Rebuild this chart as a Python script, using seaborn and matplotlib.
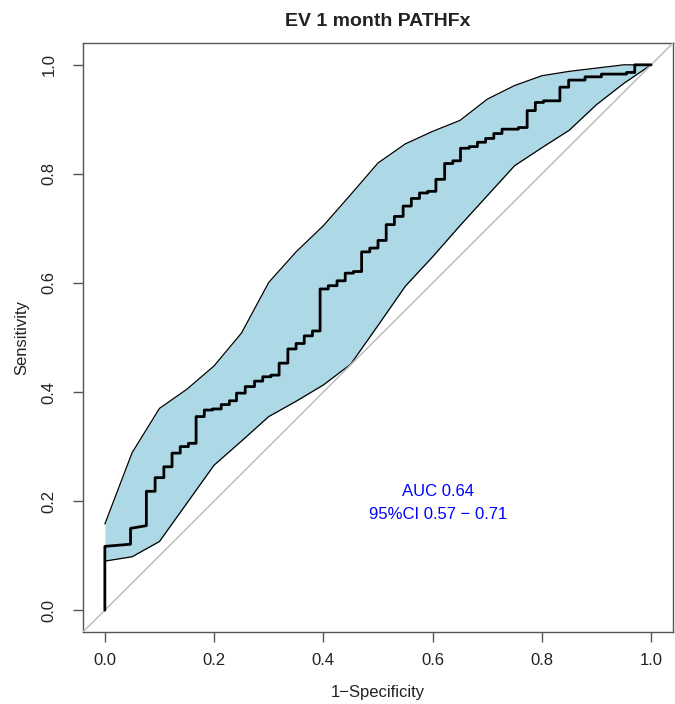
import numpy as np
import pandas as pd
import matplotlib
matplotlib.use("Agg")
import matplotlib.pyplot as plt
import seaborn as sns

# ROC curve vertices (1-specificity, sensitivity)
roc_fpr = [0, 0, 0.047, 0.047, 0.076, 0.076, 0.092, 0.092, 0.108, 0.108, 0.123, 0.123,
           0.138, 0.138, 0.153, 0.153, 0.167, 0.167, 0.182, 0.182, 0.197, 0.197, 0.213, 0.213,
           0.228, 0.228, 0.241, 0.241, 0.257, 0.257, 0.274, 0.274, 0.289, 0.289, 0.304, 0.304,
           0.319, 0.319, 0.335, 0.335, 0.350, 0.350, 0.365, 0.365, 0.380, 0.380, 0.394, 0.394,
           0.409, 0.409, 0.425, 0.425, 0.440, 0.440, 0.455, 0.455, 0.470, 0.470, 0.485, 0.485,
           0.500, 0.500, 0.515, 0.515, 0.530, 0.530, 0.546, 0.546, 0.561, 0.561, 0.576, 0.576,
           0.591, 0.591, 0.606, 0.606, 0.622, 0.622, 0.637, 0.637, 0.651, 0.651, 0.667, 0.667,
           0.682, 0.682, 0.697, 0.697, 0.712, 0.712, 0.727, 0.727, 0.757, 0.757, 0.773, 0.773,
           0.788, 0.788, 0.803, 0.803, 0.833, 0.833, 0.849, 0.849, 0.879, 0.879, 0.909, 0.909,
           0.955, 0.955, 0.970, 0.970, 1.0]
roc_tpr = [0, 0.117, 0.121, 0.150, 0.155, 0.218, 0.218, 0.243, 0.243, 0.263, 0.263, 0.288,
           0.288, 0.300, 0.300, 0.306, 0.306, 0.355, 0.355, 0.367, 0.367, 0.369, 0.369, 0.377,
           0.377, 0.384, 0.384, 0.398, 0.398, 0.410, 0.410, 0.420, 0.420, 0.428, 0.428, 0.431,
           0.431, 0.453, 0.453, 0.479, 0.479, 0.489, 0.489, 0.503, 0.503, 0.512, 0.512, 0.589,
           0.589, 0.595, 0.595, 0.604, 0.604, 0.618, 0.618, 0.621, 0.621, 0.657, 0.657, 0.664,
           0.664, 0.678, 0.678, 0.707, 0.707, 0.722, 0.722, 0.741, 0.741, 0.755, 0.755, 0.765,
           0.765, 0.768, 0.768, 0.790, 0.790, 0.819, 0.819, 0.824, 0.824, 0.847, 0.847, 0.850,
           0.850, 0.858, 0.858, 0.865, 0.865, 0.874, 0.874, 0.882, 0.882, 0.885, 0.885, 0.916,
           0.916, 0.931, 0.931, 0.934, 0.934, 0.959, 0.959, 0.972, 0.972, 0.978, 0.978, 0.983,
           0.983, 0.986, 0.986, 1.0, 1.0]

# Confidence band for sensitivity
ci_fpr = [0, 0.05, 0.10, 0.15, 0.20, 0.25, 0.30, 0.35, 0.40, 0.45, 0.50,
          0.55, 0.60, 0.65, 0.70, 0.75, 0.80, 0.85, 0.90, 0.95, 1.0]
ci_lower = [0.090, 0.098, 0.126, 0.196, 0.266, 0.310, 0.355, 0.383, 0.413, 0.451, 0.522,
            0.594, 0.648, 0.705, 0.760, 0.815, 0.848, 0.880, 0.927, 0.966, 1.0]
ci_upper = [0.158, 0.289, 0.370, 0.405, 0.448, 0.508, 0.601, 0.657, 0.705, 0.762, 0.820,
            0.855, 0.878, 0.898, 0.937, 0.962, 0.980, 0.988, 0.994, 1.0, 1.0]

ticks = [0.0, 0.2, 0.4, 0.6, 0.8, 1.0]
tick_labels = ["0.0", "0.2", "0.4", "0.6", "0.8", "1.0"]
title = "EV 1 month PATHFx"
auc_lines = ["AUC 0.64", "95%CI 0.57 \u2212 0.71"]

sns.set_theme(style="white")
plt.rcParams['font.family'] = ['Liberation Sans', 'DejaVu Sans']

fig = plt.figure(figsize=(6.75, 7.04), dpi=100)
ax = fig.add_axes([83/675, 1 - 632/704, 590/675, 589/704])

ax.fill_between(ci_fpr, ci_lower, ci_upper, color="#ADD8E6", lw=0, zorder=1)
sns.lineplot(x=ci_fpr, y=ci_upper, color="black", lw=0.9, ax=ax, sort=False, estimator=None, zorder=2)
sns.lineplot(x=ci_fpr, y=ci_lower, color="black", lw=0.9, ax=ax, sort=False, estimator=None, zorder=2)
ax.axline((0, 0), (1, 1), color="#BEBEBE", lw=1.1, zorder=3)
sns.lineplot(x=roc_fpr, y=roc_tpr, color="black", lw=2.0, ax=ax, sort=False, estimator=None, zorder=4)

ax.text(0.61, 0.218, auc_lines[0], color="#0000FF", fontsize=12, ha="center", va="center")
ax.text(0.61, 0.176, auc_lines[1], color="#0000FF", fontsize=12, ha="center", va="center")

ax.set_xlim(-0.04, 1.04)
ax.set_ylim(-0.04, 1.04)
ax.set_xticks(ticks)
ax.set_xticklabels(tick_labels, fontsize=12, color="#222222")
ax.set_yticks(ticks)
ax.set_yticklabels(tick_labels, fontsize=12, rotation=90, va="center", color="#222222")
ax.tick_params(direction="out", length=7, width=1, color="#555555", bottom=True, left=True)
ax.tick_params(axis="x", pad=8)
ax.tick_params(axis="y", pad=12)
for s in ax.spines.values():
    s.set_color("#555555")
    s.set_linewidth(1)
ax.set_xlabel("1\u2212Specificity", fontsize=12, color="#222222", labelpad=12)
ax.set_ylabel("Sensitivity", fontsize=12, color="#222222", labelpad=9)
ax.set_title(title, fontsize=14, fontweight="bold", color="#222222", pad=12)

fig.savefig("out.png", dpi=100)
